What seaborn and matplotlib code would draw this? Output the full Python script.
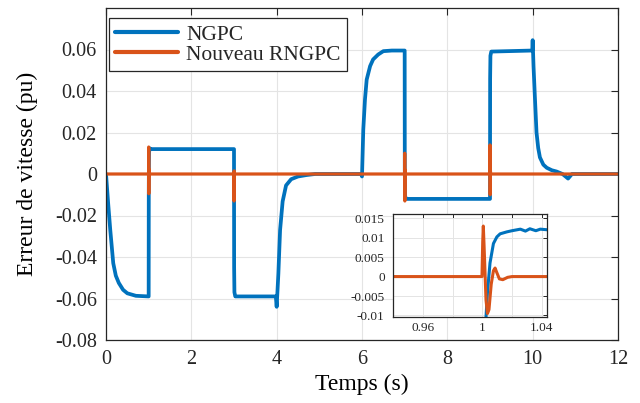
import matplotlib
matplotlib.use("Agg")
import matplotlib.pyplot as plt
import pandas as pd
import seaborn as sns

# Speed error of the NGPC controller (time in s, error in pu)
t_ngpc = [0.0, 0.05, 0.1, 0.17, 0.23, 0.3, 0.4, 0.5, 0.7, 1.0,
          1.0025, 1.0035, 1.0052, 1.0075, 1.0098, 1.012, 1.0165, 1.02, 1.0256,
          1.029, 1.032, 1.036, 1.039, 1.045, 3.0,
          3.003, 3.01, 3.03, 3.98, 4.0, 4.02, 4.04, 4.08, 4.14, 4.22, 4.34,
          4.5, 4.7, 4.9, 5.98, 6.0, 6.03, 6.07, 6.11, 6.19, 6.26, 6.38, 6.5,
          6.7, 7.0, 7.003, 7.01, 7.03, 9.0, 9.003, 9.01, 9.03, 9.99, 10.0,
          10.02, 10.05, 10.09, 10.13, 10.17, 10.25, 10.33, 10.45, 10.56, 10.7,
          10.83, 10.88, 10.92, 12.0]
e_ngpc = [0.0, -0.014, -0.027, -0.043, -0.049, -0.0525, -0.0558, -0.0575, -0.0587, -0.059,
          -0.0105, -0.004, 0.0035, 0.0085, 0.0102, 0.011, 0.0115, 0.0118, 0.0122,
          0.0117, 0.0123, 0.0118, 0.0122, 0.012, 0.012,
          -0.045, -0.057, -0.059, -0.059, -0.064, -0.056, -0.048, -0.027, -0.0132, -0.0055, -0.0025,
          -0.0012, -0.0005, 0.0, 0.0, -0.0012, 0.0214, 0.036, 0.0455, 0.052, 0.0552, 0.0576, 0.0592,
          0.0595, 0.0595, 0.002, -0.0105, -0.012, -0.012, 0.046, 0.057, 0.059, 0.0595, 0.0645,
          0.052, 0.038, 0.02, 0.0125, 0.008, 0.0045, 0.003, 0.0018, 0.0012, 0.0,
          -0.0022, -0.001, 0.0, 0.0]

# Speed error of the proposed RNGPC controller
t_rngpc = [0.0, 0.9998, 1.0003, 1.0007, 1.0012, 1.0025, 1.0035, 1.0045, 1.006, 1.0075,
           1.0086, 1.0098, 1.0115, 1.0138, 1.017, 1.02,
           2.9998, 3.0007, 3.004, 3.009, 3.015,
           6.9998, 7.0007, 7.004, 7.009, 7.015,
           8.9998, 9.0007, 9.004, 9.009, 9.015, 12.0]
e_rngpc = [0.0, 0.0, 0.009, 0.013, 0.008, -0.006, -0.0095, -0.0085, -0.002, 0.0015,
           0.0022, 0.001, -0.0006, -0.0008, -0.0002, 0.0,
           0.0, -0.013, 0.0015, -0.0005, 0.0,
           0.0, 0.010, -0.013, 0.002, 0.0,
           0.0, 0.014, -0.010, 0.002, 0.0, 0.0]

series_names = ["NGPC", "Nouveau RNGPC"]
series_colors = ["#0072BD", "#D95319"]

x_ticks = [0, 2, 4, 6, 8, 10, 12]
y_ticks = [-0.08, -0.06, -0.04, -0.02, 0.0, 0.02, 0.04, 0.06]
y_tick_labels = ["-0.08", "-0.06", "-0.04", "-0.02", "0", "0.02", "0.04", "0.06"]

zoom_x_ticks = [0.96, 0.98, 1.0, 1.02, 1.04]
zoom_x_labels = ["0.96", "", "1", "", "1.04"]
zoom_y_ticks = [-0.01, -0.005, 0.0, 0.005, 0.01, 0.015]
zoom_y_labels = ["-0.01", "-0.005", "0", "0.005", "0.01", "0.015"]

df = pd.concat([
    pd.DataFrame({"t": t_ngpc, "err": e_ngpc, "ctrl": series_names[0]}),
    pd.DataFrame({"t": t_rngpc, "err": e_rngpc, "ctrl": series_names[1]}),
], ignore_index=True)
palette = dict(zip(series_names, series_colors))
line_widths = {"NGPC": 2.7, "Nouveau RNGPC": 2.3}

sns.set_style("white")
plt.rcParams["font.family"] = ["Liberation Serif", "DejaVu Serif"]
plt.rcParams["xtick.direction"] = "in"
plt.rcParams["ytick.direction"] = "in"

dark = "#262626"
grid_c = "#e4e4e4"

fig = plt.figure(figsize=(6.4, 4.03), dpi=100)
ax = fig.add_axes([106 / 640, 1 - 340 / 403, 512 / 640, 332 / 403])

for name in series_names:
    sns.lineplot(data=df[df["ctrl"] == name], x="t", y="err", color=palette[name],
                 lw=line_widths[name], estimator=None, sort=False, ax=ax, label=name)

ax.set_xlim(0, 12)
ax.set_ylim(-0.08, 0.08)
ax.set_xticks(x_ticks)
ax.set_xticklabels([str(v) for v in x_ticks])
ax.set_yticks(y_ticks)
ax.set_yticklabels(y_tick_labels)
ax.grid(True, color=grid_c, lw=0.8)
ax.set_axisbelow(True)
ax.tick_params(axis="both", which="both", top=True, right=True, length=5,
               width=0.8, color=dark, labelsize=14.5, labelcolor=dark)
ax.tick_params(axis="y", pad=6.5)
ax.tick_params(axis="x", pad=7.5)
for s in ax.spines.values():
    s.set_color(dark)
    s.set_linewidth(0.9)
ax.set_xlabel("Temps (s)", fontsize=17, color="black")
ax.set_ylabel("Erreur de vitesse (pu)", fontsize=17, color="black")
ax.xaxis.set_label_coords(0.5, -0.103)
ax.yaxis.set_label_coords(-0.133, 0.5)

leg = ax.legend(loc="upper left", bbox_to_anchor=(109 / 640, 1 - 18 / 403),
                bbox_transform=fig.transFigure, borderaxespad=0, fontsize=15.5,
                frameon=True, fancybox=False, framealpha=1, edgecolor=dark,
                handlelength=2.9, handletextpad=0.4, labelspacing=0.0, borderpad=0.3)
leg.get_frame().set_linewidth(0.9)
for h in leg.get_lines():
    h.set_linewidth(3)

# Zoom on the first transient around t = 1 s
axi = fig.add_axes([393 / 640, 1 - 317 / 403, 154 / 640, 103 / 403])
for name in series_names:
    sns.lineplot(data=df[df["ctrl"] == name], x="t", y="err", color=palette[name],
                 lw=2.2, estimator=None, sort=False, ax=axi, legend=False)
axi.set_xlim(0.94, 1.0435)
axi.set_ylim(-0.0104, 0.0161)
axi.set_xticks(zoom_x_ticks)
axi.set_xticklabels(zoom_x_labels)
axi.set_yticks(zoom_y_ticks)
axi.set_yticklabels(zoom_y_labels)
axi.set_xlabel("")
axi.set_ylabel("")
axi.set_facecolor("white")
axi.grid(True, color=grid_c, lw=0.7)
axi.set_axisbelow(True)
axi.tick_params(axis="both", top=True, right=True, length=3, width=0.7,
                color=dark, labelsize=9.5, labelcolor=dark)
axi.tick_params(axis="y", pad=6)
axi.tick_params(axis="x", pad=3.5)
for s in axi.spines.values():
    s.set_color(dark)
    s.set_linewidth(0.9)

fig.savefig("out.png", dpi=100)
